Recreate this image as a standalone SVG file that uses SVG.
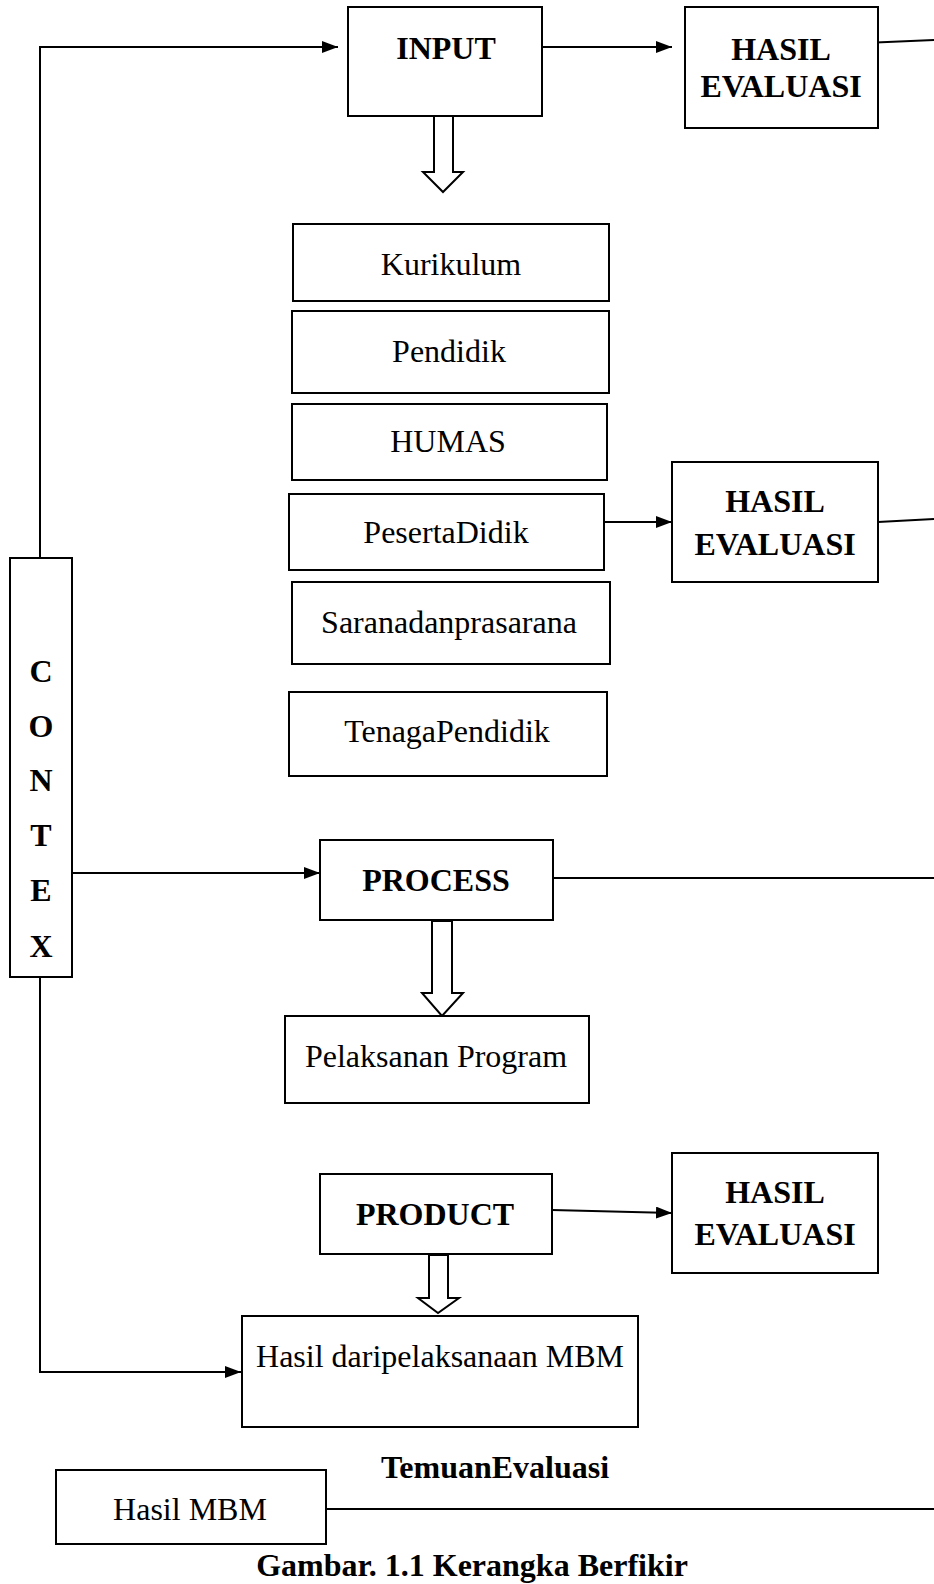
<svg xmlns="http://www.w3.org/2000/svg" width="934" height="1584" viewBox="0 0 934 1584">
<style>
.box{fill:#fff;stroke:#000;stroke-width:2}
.ln{fill:none;stroke:#000;stroke-width:2}
.blk{fill:#fff;stroke:#000;stroke-width:2;stroke-linejoin:miter}
.t{font-family:"Liberation Serif","Times New Roman",serif;font-size:32px;fill:#000;text-anchor:middle}
.b{font-family:"Liberation Serif","Times New Roman",serif;font-size:32px;font-weight:bold;fill:#000;text-anchor:middle}
</style>
<defs>
<marker id="ah" markerUnits="userSpaceOnUse" markerWidth="16" markerHeight="12" refX="16" refY="6" orient="auto">
<path d="M0,0 L16,6 L0,12 z" fill="#000"/>
</marker>
</defs>
<rect width="934" height="1584" fill="#fff"/>
<g id="connectors">
<path class="ln" d="M40,558 V47 H338" marker-end="url(#ah)"/>
<line class="ln" x1="542" y1="47" x2="672" y2="47" marker-end="url(#ah)"/>
<line class="ln" x1="864" y1="43" x2="934" y2="40"/>
<line class="ln" x1="604" y1="522" x2="672" y2="522" marker-end="url(#ah)"/>
<line class="ln" x1="878" y1="522" x2="934" y2="519"/>
<line class="ln" x1="72" y1="873" x2="320" y2="873" marker-end="url(#ah)"/>
<line class="ln" x1="553" y1="878" x2="934" y2="878"/>
<line class="ln" x1="552" y1="1210" x2="672" y2="1213" marker-end="url(#ah)"/>
<path class="ln" d="M40,977 V1372 H241" marker-end="url(#ah)"/>
<line class="ln" x1="326" y1="1509" x2="934" y2="1509"/>
<polygon class="blk" points="434,116 453,116 453,172 463,172 443,192 423,172 434,172"/>
<polygon class="blk" points="432,921 452,921 452,993 463,993 442,1016 422,993 432,993"/>
<polygon class="blk" points="429,1255 448,1255 448,1298 459,1298 438,1313 418,1298 429,1298"/>
</g>
<g id="input"><rect class="box" x="348" y="7" width="194" height="109"/><text class="b" x="446" y="59">INPUT</text></g>
<g id="hasil1"><rect class="box" x="685" y="7" width="193" height="121"/><text class="b" x="781" y="60">HASIL</text><text class="b" x="781" y="97">EVALUASI</text></g>
<g id="kurikulum"><rect class="box" x="293" y="224" width="316" height="77"/><text class="t" x="451" y="275">Kurikulum</text></g>
<g id="pendidik"><rect class="box" x="292" y="311" width="317" height="82"/><text class="t" x="449" y="362">Pendidik</text></g>
<g id="humas"><rect class="box" x="292" y="404" width="315" height="76"/><text class="t" x="448" y="452">HUMAS</text></g>
<g id="pesertadidik"><rect class="box" x="289" y="494" width="315" height="76"/><text class="t" x="446" y="543">PesertaDidik</text></g>
<g id="hasil2"><rect class="box" x="672" y="462" width="206" height="120"/><text class="b" x="775" y="512">HASIL</text><text class="b" x="775" y="555">EVALUASI</text></g>
<g id="sarana"><rect class="box" x="292" y="582" width="318" height="82"/><text class="t" x="449" y="633">Saranadanprasarana</text></g>
<g id="tenaga"><rect class="box" x="289" y="692" width="318" height="84"/><text class="t" x="447" y="742">TenagaPendidik</text></g>
<g id="contex"><rect class="box" x="10" y="558" width="62" height="419"/>
<text class="b" x="41" y="682">C</text><text class="b" x="41" y="737">O</text><text class="b" x="41" y="791">N</text><text class="b" x="41" y="846">T</text><text class="b" x="41" y="901">E</text><text class="b" x="41" y="957">X</text></g>
<g id="process"><rect class="box" x="320" y="840" width="233" height="80"/><text class="b" x="436" y="891">PROCESS</text></g>
<g id="pelaksanan"><rect class="box" x="285" y="1016" width="304" height="87"/><text class="t" x="436" y="1067">Pelaksanan Program</text></g>
<g id="product"><rect class="box" x="320" y="1174" width="232" height="80"/><text class="b" x="435" y="1225">PRODUCT</text></g>
<g id="hasil3"><rect class="box" x="672" y="1153" width="206" height="120"/><text class="b" x="775" y="1203">HASIL</text><text class="b" x="775" y="1245">EVALUASI</text></g>
<g id="hasildari"><rect class="box" x="242" y="1316" width="396" height="111"/><text class="t" x="440" y="1367">Hasil daripelaksanaan MBM</text></g>
<g id="temuan"><text class="b" x="495" y="1478">TemuanEvaluasi</text></g>
<g id="hasilmbm"><rect class="box" x="56" y="1470" width="270" height="74"/><text class="t" x="190" y="1520">Hasil MBM</text></g>
<g id="caption"><text class="b" x="472" y="1576">Gambar. 1.1 Kerangka Berfikir</text></g>
</svg>
